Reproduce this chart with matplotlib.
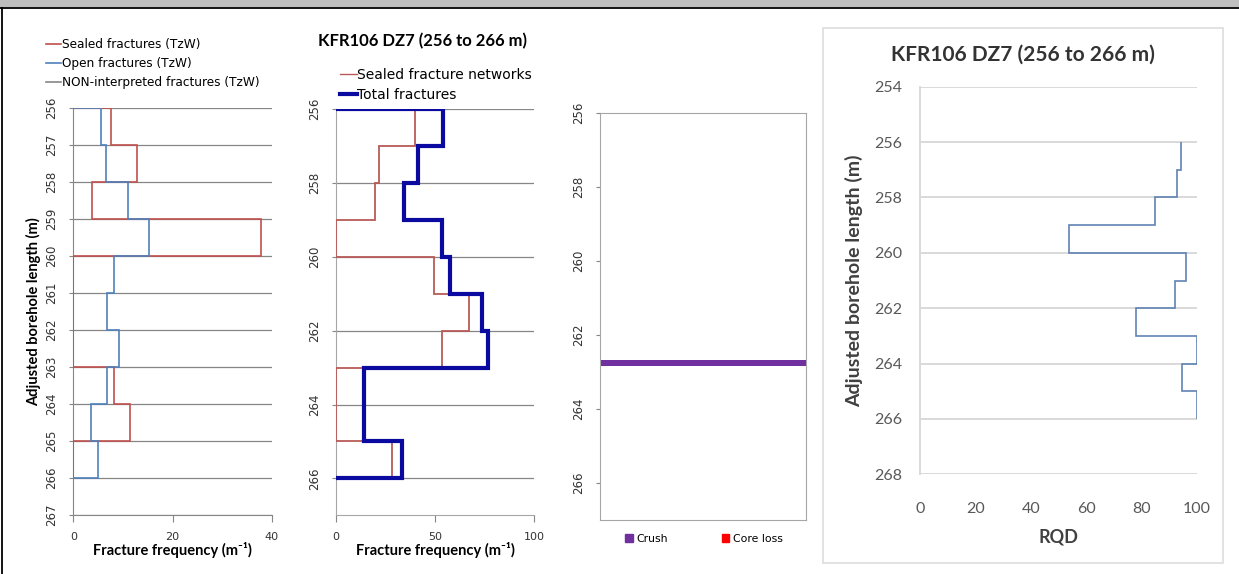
import matplotlib.pyplot as plt
from matplotlib.lines import Line2D
from matplotlib.patches import Patch, Rectangle

W, H = 1239, 574

# depth intervals (m), 1 m bins from 256 to 266
DEPTH_EDGES = [256, 257, 258, 259, 260, 261, 262, 263, 264, 265, 266]

# panel 1: TzW fracture frequencies (m-1)
SEALED_TZW = [7.7, 12.8, 3.8, 37.8, 0, 0, 0, 8.3, 11.4, 0]
OPEN_TZW = [5.5, 6.5, 11.1, 15.3, 8.3, 6.7, 9.3, 6.7, 3.6, 5.0]
NONINT_TZW = [0, 0, 0, 0, 0, 0, 0, 0, 0, 0]

# panel 2: networks vs total (m-1)
SEALED_NETWORKS = [40, 21.8, 19.5, 0, 49.2, 67, 53.3, 0, 0, 28.2]
TOTAL_FRACTURES = [54, 41.2, 34.5, 53.3, 57.6, 73.8, 76.8, 14.1, 14.1, 33.1]

# panel 3: crush zone (m)
CRUSH_TOP = 262.66
CRUSH_BOTTOM = 262.84

# panel 4: RQD
RQD = [94.3, 93, 85, 54, 96, 92, 78, 100, 94.8, 100]

TITLE = 'KFR106 DZ7 (256 to 266 m)'
YLABEL = 'Adjusted borehole length (m)'
XLABEL_FF = 'Fracture frequency (m⁻¹)'

RED = '#C0504D'
BLUE = '#4F81BD'
GREY = '#868686'
NAVY = '#0A0AA0'
PURPLE = '#7030A0'
BOLD_FONT = ['Lato', 'DejaVu Sans']


def px_axes(fig, x0, y0, x1, y1):
    return fig.add_axes([x0 / W, 1 - y1 / H, (x1 - x0) / W, (y1 - y0) / H])


def style_depth_axis(ax, ticks):
    ax.set_yticks(ticks)
    ax.tick_params(axis='y', length=3, pad=8, labelsize=8.5, colors='#333333',
                   color=GREY)
    for lab in ax.get_yticklabels():
        lab.set_rotation(90)
        lab.set_va('center')


def main():
    plt.rcParams.update({'font.family': ['DejaVu Sans'], 'font.size': 8})
    fig = plt.figure(figsize=(W / 100, H / 100), dpi=100)
    fig.patch.set_facecolor('white')

    # page frame: grey header band and black borders
    fig.patches.append(Rectangle((0, 1 - 7 / H), 1, 7 / H, transform=fig.transFigure,
                                 facecolor='#BFBFBF', edgecolor='none'))
    fig.lines.append(Line2D([0, 1], [1 - 8 / H] * 2, transform=fig.transFigure,
                            color='black', lw=1.3))
    fig.lines.append(Line2D([2.5 / W] * 2, [0, 1 - 8 / H], transform=fig.transFigure,
                            color='black', lw=1.3))
    # light frame of the pasted RQD chart
    fig.patches.append(Rectangle((823 / W, 1 - 563 / H), 400 / W, 535 / H,
                                 transform=fig.transFigure, facecolor='white',
                                 edgecolor='#DDDDDD', lw=1.2, zorder=-1))

    # --- Panel 1: TzW fractures ---
    ax = px_axes(fig, 73.3, 108, 271.7, 515)
    ax.stairs(NONINT_TZW, DEPTH_EDGES, orientation='horizontal', baseline=0,
              color=GREY, lw=1.2, zorder=3)
    ax.stairs(SEALED_TZW, DEPTH_EDGES, orientation='horizontal', baseline=0,
              color=RED, lw=1.2, zorder=4)
    ax.stairs(OPEN_TZW, DEPTH_EDGES, orientation='horizontal', baseline=0,
              color=BLUE, lw=1.2, zorder=5)
    ax.set_xlim(0, 40)
    ax.set_ylim(267, 256)
    style_depth_axis(ax, range(256, 268))
    ax.yaxis.grid(True, color=GREY, lw=0.9)
    ax.set_xticks([0, 20, 40])
    ax.tick_params(axis='x', length=5, pad=7, labelsize=8, colors='#333333',
                   color=GREY)
    for s in ('top', 'right'):
        ax.spines[s].set_visible(False)
    for s in ('left', 'bottom'):
        ax.spines[s].set_color(GREY)
    ax.set_xlabel(XLABEL_FF, fontsize=10.5, fontweight='bold', family=BOLD_FONT,
                  labelpad=0)
    ax.set_ylabel(YLABEL, fontsize=10.5, fontweight='bold', family=BOLD_FONT,
                  labelpad=2.5)
    handles = [Line2D([], [], color=RED, lw=1.2), Line2D([], [], color=BLUE, lw=1.2),
               Line2D([], [], color=GREY, lw=1.2)]
    ax.legend(handles, ['Sealed fractures (TzW)', 'Open fractures (TzW)',
                        'NON-interpreted fractures (TzW)'],
              loc='upper left', bbox_to_anchor=(46 / W, 1 - 38 / H),
              bbox_transform=fig.transFigure, frameon=False, fontsize=8.7,
              handlelength=1.2, handletextpad=0.1, labelspacing=0.5,
              borderpad=0, borderaxespad=0)

    # --- Panel 2: sealed networks vs total ---
    ax = px_axes(fig, 336, 109.3, 534.3, 515.3)
    ax.stairs(SEALED_NETWORKS, DEPTH_EDGES, orientation='horizontal', baseline=0,
              color='#B85A57', lw=1.3, zorder=4)
    ax.stairs(TOTAL_FRACTURES, DEPTH_EDGES, orientation='horizontal', baseline=0,
              color=NAVY, lw=3.0, zorder=5)
    ax.set_xlim(0, 100)
    ax.set_ylim(267, 256)
    style_depth_axis(ax, range(256, 267, 2))
    ax.yaxis.grid(True, color=GREY, lw=0.9)
    ax.set_xticks([0, 50, 100])
    ax.tick_params(axis='x', length=5, pad=7, labelsize=8, colors='#333333',
                   color=GREY)
    for s in ('top', 'right'):
        ax.spines[s].set_visible(False)
    for s in ('left', 'bottom'):
        ax.spines[s].set_color('#A6A6A6')
    ax.set_xlabel(XLABEL_FF, fontsize=10.5, fontweight='bold', family=BOLD_FONT,
                  labelpad=0)
    fig.text(423 / W, 1 - 41 / H, TITLE, ha='center', va='center', fontsize=12,
             fontweight='bold', family=BOLD_FONT)
    handles = [Line2D([], [], color='#B85A57', lw=1.0), Line2D([], [], color=NAVY, lw=3.0)]
    ax.legend(handles, ['Sealed fracture networks', 'Total fractures'],
              loc='upper left', bbox_to_anchor=(340 / W, 1 - 68 / H),
              bbox_transform=fig.transFigure, frameon=False, fontsize=10,
              handlelength=1.2, handletextpad=0.05, labelspacing=0.45,
              borderpad=0, borderaxespad=0)

    # --- Panel 3: crush / core loss ---
    ax = px_axes(fig, 600, 113.3, 806, 520)
    ax.barh(CRUSH_TOP, 1, height=CRUSH_BOTTOM - CRUSH_TOP, left=0, align='edge',
            color=PURPLE)
    ax.set_xlim(0, 1)
    ax.set_ylim(267, 256)
    style_depth_axis(ax, range(256, 267, 2))
    ax.set_xticks([])
    for s in ax.spines.values():
        s.set_color('#A6A6A6')
    handles = [Patch(color=PURPLE), Patch(color='#FF0000')]
    ax.legend(handles, ['Crush', 'Core loss'], loc='center', ncol=2,
              bbox_to_anchor=(704 / W, 1 - 539 / H), bbox_transform=fig.transFigure,
              frameon=False, fontsize=7.8, handlelength=0.7, handleheight=0.7,
              handletextpad=0.3, columnspacing=5.0, borderpad=0)

    # --- Panel 4: RQD ---
    ax = px_axes(fig, 920, 86.7, 1196.7, 474.3)
    ax.stairs(RQD, DEPTH_EDGES, orientation='horizontal', baseline=None,
              color='#5F83B3', lw=1.2, zorder=4)
    ax.set_xlim(0, 100)
    ax.set_ylim(268, 254)
    ax.set_yticks(range(254, 269, 2))
    ax.set_xticks(range(0, 101, 20))
    ax.yaxis.grid(True, color='#D9D9D9', lw=1.4)
    ax.tick_params(length=0, labelsize=11.5, colors='#595959')
    ax.tick_params(axis='y', pad=13)
    ax.tick_params(axis='x', pad=20)
    for lab in ax.get_xticklabels() + ax.get_yticklabels():
        lab.set_family(BOLD_FONT)
    for s in ('top', 'right', 'bottom'):
        ax.spines[s].set_visible(False)
    ax.spines['left'].set_color('#D9D9D9')
    ax.spines['left'].set_linewidth(1.4)
    ax.set_xlabel('RQD', fontsize=13, fontweight='bold', family=BOLD_FONT,
                  color='#404040', labelpad=9)
    ax.set_ylabel(YLABEL, fontsize=14, fontweight='bold', family=BOLD_FONT,
                  color='#404040', labelpad=8)
    fig.text(1023 / W, 1 - 55 / H, TITLE, ha='center', va='center', fontsize=15,
             fontweight='bold', family=BOLD_FONT, color='#333333')

    fig.savefig('out.png', dpi=100)


if __name__ == '__main__':
    main()
